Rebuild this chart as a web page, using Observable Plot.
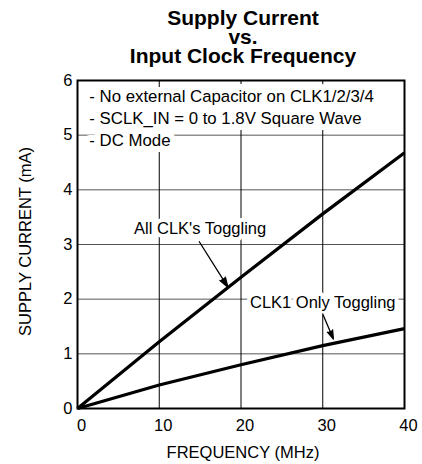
<!DOCTYPE html>
<html>
<head>
<meta charset="utf-8">
<script src="https://cdn.jsdelivr.net/npm/d3@7"></script>
<script src="https://cdn.jsdelivr.net/npm/@observablehq/plot@0.6"></script>
<style>
  html, body { margin: 0; padding: 0; background: #fff; }
  body { width: 422px; height: 464px; overflow: hidden; font-family: "Liberation Sans", Arial, Helvetica, sans-serif; }
  #title { box-sizing: border-box; height: 68px; padding-top: 8px; padding-left: 64px; text-align: center;
           font-weight: bold; font-size: 21px; line-height: 19px; color: #000; }
  #chart svg { display: block; }
</style>
</head>
<body>
<div id="title">Supply Current<br>vs.<br>Input Clock Frequency</div>
<div id="chart"></div>
<script>
// ---- data ----
const frequency = [0, 10, 20, 30, 40];                 // MHz
const allClkToggling = [0, 1.22, 2.40, 3.56, 4.68];    // mA
const clk1OnlyToggling = [0, 0.43, 0.80, 1.15, 1.46];  // mA

const xTicks = [0, 10, 20, 30, 40];
const yTicks = [0, 1, 2, 3, 4, 5, 6];
const xLabel = "FREQUENCY (MHz)";
const yLabel = "SUPPLY CURRENT (mA)";

const notes = ["- No external Capacitor on CLK1/2/3/4", "- SCLK_IN = 0 to 1.8V Square Wave", "- DC Mode"];
const notesX = [1.45, 1.45, 1.45];
const notesY = [5.71, 5.30, 4.90];

const calloutText = ["All CLK's Toggling", "CLK1 Only Toggling"];
const calloutX = [15.0, 30.0];
const calloutY = [3.29, 1.93];
const arrowFromX = [14.9, 30.0];
const arrowFromY = [3.05, 1.73];
const arrowToX = [18.4, 31.3];
const arrowToY = [2.22, 1.27];

// ---- tables ----
const series = [
  ...frequency.map((f, i) => ({f, v: allClkToggling[i], s: "all"})),
  ...frequency.map((f, i) => ({f, v: clk1OnlyToggling[i], s: "clk1"}))
];
const noteRows = notes.map((t, i) => ({t, x: notesX[i], y: notesY[i]}));
const callouts = calloutText.map((t, i) => ({t, x: calloutX[i], y: calloutY[i]}));
const arrows = arrowFromX.map((x1, i) => ({x1, y1: arrowFromY[i], x2: arrowToX[i], y2: arrowToY[i]}));

const font = "'Liberation Sans', Arial, Helvetica, sans-serif";

const chart = Plot.plot({
  width: 422,
  height: 396,
  marginLeft: 77,
  marginRight: 18,
  marginTop: 12,
  marginBottom: 56,
  style: {fontFamily: font, fontSize: "16.5px", color: "#000", background: "#fff"},
  x: {domain: [0, 40]},
  y: {domain: [0, 6]},
  marks: [
    Plot.ruleY(yTicks.filter(d => d > 0 && d < 6), {stroke: "#555", strokeWidth: 1}),
    Plot.ruleX(xTicks.filter(d => d > 0 && d < 40), {stroke: "#000", strokeWidth: 1}),
    Plot.text(noteRows, {x: "x", y: "y", text: "t", textAnchor: "start", fill: "#000",
      stroke: "#fff", strokeWidth: 12, strokeLinejoin: "round", fontSize: 16.8}),
    Plot.text(callouts, {x: "x", y: "y", text: "t", fill: "#000",
      stroke: "#fff", strokeWidth: 8, strokeLinejoin: "round", fontSize: 16.5}),
    Plot.line(series, {x: "f", y: "v", z: "s", stroke: "#000", strokeWidth: 3.2, strokeLinecap: "butt"}),
    Plot.arrow(arrows, {x1: "x1", y1: "y1", x2: "x2", y2: "y2", stroke: "#000", fill: "#000",
      strokeWidth: 1.3, headLength: 12, headAngle: 36}),
    Plot.frame({stroke: "#000", strokeWidth: 2}),
    Plot.axisX(xTicks, {tickSize: 0, tickPadding: 11, dx: 4, label: null, tickFormat: d => String(d), fontSize: 16.5}),
    Plot.axisY(yTicks, {tickSize: 0, tickPadding: 5, label: null, tickFormat: d => String(d), fontSize: 16.5}),
    Plot.text([xLabel], {frameAnchor: "bottom", textAnchor: "middle", lineAnchor: "middle", dx: 2, dy: 44, fontSize: 16.5}),
    Plot.text([yLabel], {frameAnchor: "left", textAnchor: "middle", lineAnchor: "middle", rotate: -90, dx: -52, dy: -3, fontSize: 16.5})
  ]
});
document.getElementById("chart").appendChild(chart);
</script>
</body>
</html>
